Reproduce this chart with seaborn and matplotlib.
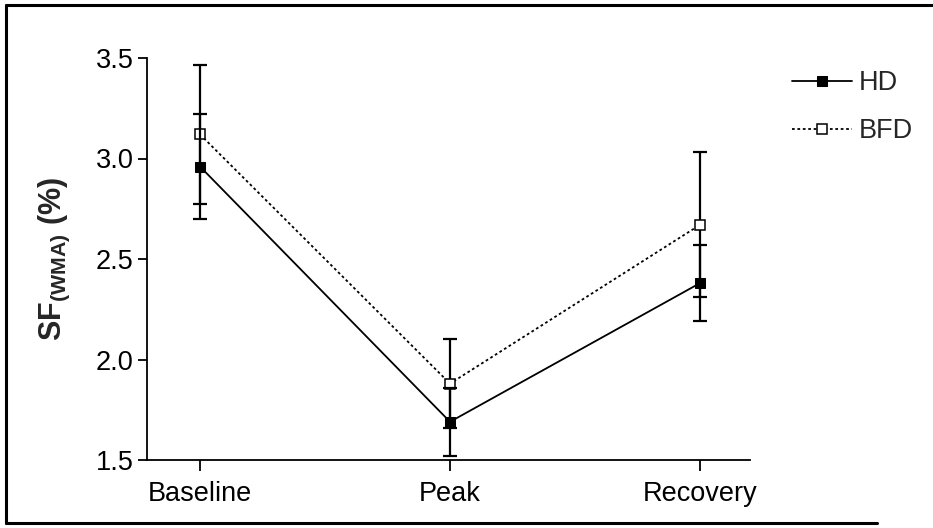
import pandas as pd
import matplotlib
matplotlib.use('Agg')
import matplotlib.pyplot as plt
import seaborn as sns

# Dados
fases = ['Baseline', 'Peak', 'Recovery']
hd_media = [2.96, 1.69, 2.38]
hd_dp = [0.26, 0.17, 0.19]
bfd_media = [3.12, 1.88, 2.67]
bfd_dp = [0.345, 0.22, 0.36]

sns.set_style('ticks')
plt.rcParams['font.family'] = ['Liberation Sans', 'DejaVu Sans']
plt.rcParams['mathtext.fontset'] = 'custom'
plt.rcParams['mathtext.rm'] = 'Liberation Sans'
plt.rcParams['mathtext.bf'] = 'Liberation Sans:bold'

df = pd.DataFrame({
    'fase': fases * 2,
    'x': [0, 1, 2] * 2,
    'valor': hd_media + bfd_media,
    'grupo': ['HD'] * 3 + ['BFD'] * 3,
})

fig = plt.figure(figsize=(9.33, 5.28), dpi=100)
ax = fig.add_axes([147 / 933, 1 - 460 / 528, (750 - 147) / 933, (460 - 58) / 528])

bfd = df[df['grupo'] == 'BFD']
hd = df[df['grupo'] == 'HD']

# BFD: barras de erro, depois linha pontilhada com quadrado aberto
ax.errorbar(bfd['x'], bfd['valor'], yerr=bfd_dp, fmt='none', ecolor='black',
            elinewidth=1.6, capsize=5, capthick=1.6, zorder=2)
sns.lineplot(data=bfd, x='x', y='valor', ax=ax, color='black', linestyle=(0, (1.5, 1.5)),
             linewidth=1.3, marker='s', markersize=7, markerfacecolor='white',
             markeredgecolor='black', markeredgewidth=1.1, label='BFD', zorder=3)

# HD: barras de erro, depois linha contínua com quadrado cheio
ax.errorbar(hd['x'], hd['valor'], yerr=hd_dp, fmt='none', ecolor='black',
            elinewidth=1.6, capsize=5, capthick=1.6, zorder=4)
sns.lineplot(data=hd, x='x', y='valor', ax=ax, color='black', linestyle='-',
             linewidth=1.3, marker='s', markersize=7, markerfacecolor='black',
             markeredgecolor='black', label='HD', zorder=5)

ax.set_xlim(-0.212, 2.2)
ax.set_ylim(1.5, 3.5)
ax.set_xticks([0, 1, 2])
ax.set_xticklabels(fases)
ax.set_yticks([1.5, 2.0, 2.5, 3.0, 3.5])
ax.set_yticklabels(['1.5', '2.0', '2.5', '3.0', '3.5'])
ax.tick_params(axis='both', labelsize=19.5, width=1.3, color='black', labelcolor='black')
ax.tick_params(axis='x', length=8, pad=7)
ax.tick_params(axis='y', length=6.5, pad=3)
ax.set_xlabel('')
ax.set_ylabel(r'$\mathbf{SF_{(WMA)}}$ (%)', fontsize=22, fontweight='bold', labelpad=17)
sns.despine(ax=ax)
for s in ['left', 'bottom']:
    ax.spines[s].set_linewidth(1.3)
    ax.spines[s].set_color('black')

handles, labels = ax.get_legend_handles_labels()
ordem = [labels.index('HD'), labels.index('BFD')]
ax.legend([handles[i] for i in ordem], [labels[i] for i in ordem],
          loc='upper left', bbox_to_anchor=(1.03, 1.03), frameon=False,
          fontsize=19.5, handlelength=2.2, handletextpad=0.25, labelspacing=0.8)

# Moldura da figura
for xs, ys in [([0.006, 0.006], [0.01, 0.99]), ([0.006, 1.0], [0.99, 0.99]), ([0.006, 0.94], [0.01, 0.01])]:
    fig.add_artist(plt.Line2D(xs, ys, color='black', linewidth=2.2, transform=fig.transFigure))

fig.savefig('out.png', dpi=100)
